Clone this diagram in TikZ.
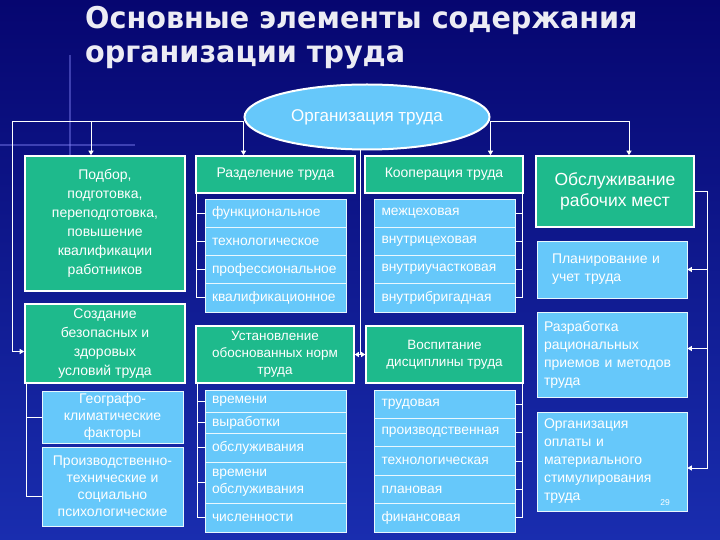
\documentclass[tikz,border=0pt]{standalone}
\usepackage{fontspec}
\setmainfont{Liberation Sans}
\newfontfamily\titlefont{DejaVu Sans}[FakeStretch=0.955]
\usetikzlibrary{arrows.meta,positioning,calc,shapes.geometric}
\definecolor{slidebg}{RGB}{6,6,112}
\definecolor{slidebot}{RGB}{25,45,175}
\definecolor{boxgreen}{RGB}{30,186,140}
\definecolor{boxblue}{RGB}{102,200,250}
\definecolor{titlegray}{RGB}{236,236,244}
\tikzset{
  link/.style={draw=white, line width=0.9pt},
  arr/.style={link, -{Triangle[length=4.5pt, width=5pt]}},
  dbl/.style={link, {Triangle[length=4pt, width=5pt]}-{Triangle[length=4pt, width=5pt]}},
  flare/.style={line width=1.3pt, blue!45!white, opacity=0.4},
  greenbox/.style={draw=white, line width=1.6pt, fill=boxgreen, text=white, align=center, inner sep=2pt, font=\fontsize{14}{19}\selectfont},
  bluebox/.style={draw=white!85!boxblue, line width=0.7pt, fill=boxblue, text=white, inner sep=0pt, font=\fontsize{14}{18}\selectfont},
  item/.style={bluebox, minimum width=141pt, text width=127pt, align=left, font=\fontsize{13.8}{17}\selectfont},
  sidebox/.style={bluebox, minimum width=150pt, text width=136pt, align=left},
}

\begin{document}
\begin{tikzpicture}[x=1pt, y=-1pt]
\useasboundingbox (0,0) rectangle (720,540);
\shade[top color=slidebg, middle color=slidebg, bottom color=slidebot] (0,0) rectangle (720,540);
\draw[flare] (70,55) -- (70,200);
\draw[flare] (0,145) -- (135,145);

% title
\node[anchor=north west, inner sep=0pt, align=left, text=titlegray,
  font=\titlefont\bfseries\fontsize{30}{34.5}\selectfont] (title) at (85,6)
  {Основные элементы содержания\\организации труда};

% top level
\node[ellipse, draw=white, line width=2pt, fill=boxblue, minimum width=245pt, minimum height=65pt,
  inner sep=0pt, text=white, font=\fontsize{17}{20}\selectfont] (org) at (367,117) {Организация труда};

\node[greenbox, minimum width=160pt, minimum height=135pt] (podbor) at (105,223.5)
  {Подбор,\\подготовка,\\переподготовка,\\повышение\\квалификации\\работников};
\node[greenbox, minimum width=160pt, minimum height=79pt] (sozd) at (105,343.5)
  {Создание\\безопасных и\\здоровых\\условий труда};
\node[greenbox, minimum width=159pt, minimum height=37pt] (razd) at (275.5,174.5) {Разделение труда};
\node[greenbox, minimum width=158pt, minimum height=37pt] (koop) at (444,174.5) {Кооперация труда};
\node[greenbox, minimum width=158pt, minimum height=71pt, font=\fontsize{17.5}{21}\selectfont] (obsl) at (615,191.5)
  {Обслуживание\\рабочих мест};
\node[greenbox, minimum width=158pt, minimum height=57pt, font=\fontsize{13.5}{17}\selectfont] (ustan) at (275,354.5)
  {Установление\\обоснованных норм\\труда};
\node[greenbox, minimum width=157pt, minimum height=57pt, font=\fontsize{13.5}{17}\selectfont] (vosp) at (444.5,354.5)
  {Воспитание\\дисциплины труда};

% division and cooperation
\foreach \t [count=\i] in {функциональное, технологическое, профессиональное, квалификационное}
  \node[item, minimum height=28.25pt] (d\i) at (275.5,184.875+28.25*\i) {\t};
\foreach \t [count=\i] in {межцеховая, внутрицеховая, внутриучастковая, внутрибригадная}
  \node[item, minimum height=28.25pt] (k\i) at (445,184.875+28.25*\i) {\t};

% norms and discipline
\node[item, minimum height=22pt] (n1) at (275.5,401) {времени};
\node[item, minimum height=21pt] (n2) at (275.5,422.5) {выработки};
\node[item, minimum height=29pt] (n3) at (275.5,447.5) {обслуживания};
\node[item, minimum height=41pt] (n4) at (275.5,482.5) {времени\\обслуживания};
\node[item, minimum height=29pt] (n5) at (275.5,517.5) {численности};
\foreach \t [count=\i] in {трудовая, производственная, технологическая, плановая, финансовая}
  \node[item, minimum height=28.4pt] (v\i) at (445,375.8+28.4*\i) {\t};

% conditions
\node[bluebox, minimum width=141pt, minimum height=52pt, align=center, font=\fontsize{14}{17}\selectfont] (geo) at (112.5,417)
  {Географо-\\климатические\\факторы};
\node[bluebox, minimum width=141pt, minimum height=79pt, align=center, font=\fontsize{14}{17}\selectfont] (proizv) at (112.5,486.5)
  {Производственно-\\технические и\\социально\\психологические};

% right column
\node[sidebox, minimum height=57pt, text width=120pt] (plan) at (612,269.5) {Планирование и\\учет труда};
\node[sidebox, minimum height=85pt] (razr) at (612,354.5) {Разработка\\рациональных\\приемов и методов\\труда};
\node[sidebox, minimum height=99pt] (opl) at (612,461.5) {Организация\\оплаты и\\материального\\стимулирования\\труда};
\node[text=white, font=\fontsize{8.5}{9}\selectfont, inner sep=0pt] (pg) at (665,503) {29};

% connectors from the top
\coordinate (lknot) at ([yshift=-4pt]org.west);
\coordinate (rknot) at ([yshift=-4pt]org.east);
\coordinate (lcorner) at (12,121);
\draw[arr] (lknot) -- (lknot |- razd.north);
\draw[arr] (lknot) -- (lcorner) |- ([yshift=-8pt]sozd.west);
\draw[arr] ([xshift=-14pt]podbor.north |- lcorner) -- ([xshift=-14pt]podbor.north);
\draw[arr] (rknot) -- (rknot |- koop.north);
\draw[arr] (rknot) -| ([xshift=14pt]obsl.north);

\coordinate (mid) at ($(ustan.east)!0.5!(vosp.west)$);
\draw[link] (mid |- org.south) -- (mid);
\draw[dbl] (ustan.east) -- (vosp.west);

% right rail
\coordinate (rrail) at ([xshift=20pt]opl.east);
\coordinate (oplin) at ([yshift=-6.5pt]opl.east);
\coordinate (razrin) at ([yshift=6pt]razr.east);
\draw[arr] (obsl.east) -| (oplin -| rrail) -- (oplin);
\draw[arr] (plan.east -| rrail) -- (plan.east);
\draw[arr] (razrin -| rrail) -- (razrin);

% brackets
\coordinate (lb) at ([xshift=2pt]sozd.south west);
\draw[link] (lb) |- ([yshift=-9.5pt]proizv.west);
\draw[link] (geo.west -| lb) -- (geo.west);

\coordinate (dbrk) at ([xshift=1pt]razd.south west);
\draw[link] (dbrk) |- (d4.west);
\foreach \i in {1,2,3} \draw[link] (d\i.west -| dbrk) -- (d\i.west);
\coordinate (kbrk) at ([xshift=-1pt]koop.south east);
\draw[link] (kbrk) |- (k4.east);
\foreach \i in {1,2,3} \draw[link] (k\i.east -| kbrk) -- (k\i.east);
\coordinate (nbrk) at ([xshift=2pt]ustan.south west);
\draw[link] (nbrk) |- (n5.west);
\foreach \i in {1,...,4} \draw[link] (n\i.west -| nbrk) -- (n\i.west);
\coordinate (vbrk) at ([xshift=-1pt]vosp.south east);
\draw[link] (vbrk) |- (v5.east);
\foreach \i in {1,...,4} \draw[link] (v\i.east -| vbrk) -- (v\i.east);
\end{tikzpicture}
\end{document}
